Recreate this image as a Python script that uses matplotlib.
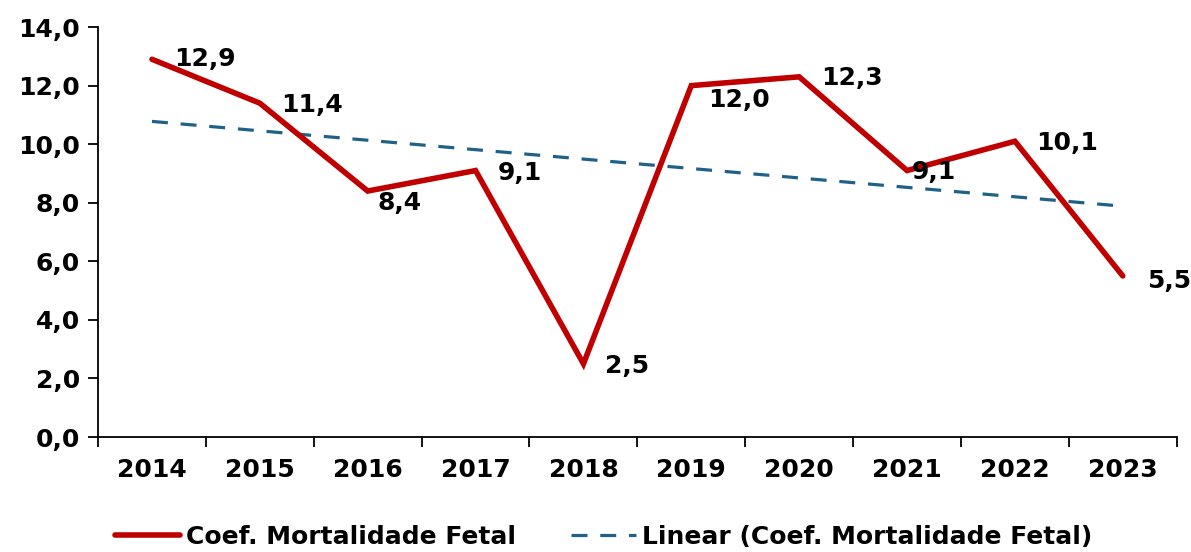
import numpy as np
from matplotlib import pyplot as plt

# data
years = ['2014', '2015', '2016', '2017', '2018', '2019', '2020', '2021', '2022', '2023']
coef = [12.9, 11.4, 8.4, 9.1, 2.5, 12.0, 12.3, 9.1, 10.1, 5.5]

# label offsets in pixels (dx, dy) for each data label
label_offsets = [(53, 0), (52, -2), (32, -12), (44, -2), (44, -2),
                 (48, -14), (53, -1), (27, -1), (52, -2), (46, -5)]

plt.rcParams['font.family'] = 'DejaVu Sans'
plt.rcParams['font.weight'] = 'bold'
FS = 18

fig = plt.figure(figsize=(11.91, 5.52), dpi=100)
ax = fig.add_axes([0.0823, 0.2083, 0.9057, 0.7427])

x = np.arange(len(years))
ax.plot(x, coef, color='#C00000', lw=4.0, solid_joinstyle='miter',
        solid_capstyle='round', label='Coef. Mortalidade Fetal', zorder=3)

# linear trendline, like excel does it
slope, icpt = np.polyfit(x, coef, 1)
ax.plot(x, slope * x + icpt, color='#1F6188', lw=2.3, ls=(0, (5.0, 4.0)),
        label='Linear (Coef. Mortalidade Fetal)', zorder=2)

for i, v in enumerate(coef):
    dx, dy = label_offsets[i]
    ax.annotate(f'{v:.1f}'.replace('.', ','), (x[i], v), xytext=(dx, dy),
                textcoords='offset pixels', ha='center', va='center',
                fontsize=FS, fontweight='bold', color='black', zorder=4)

ax.set_xlim(-0.5, len(years) - 0.5)
ax.set_ylim(0, 14)
ax.set_yticks(np.arange(0, 15, 2))
ax.set_yticklabels([f'{t:.1f}'.replace('.', ',') for t in np.arange(0, 15, 2)],
                   fontsize=FS, fontweight='bold')
ax.set_xticks(x)
ax.set_xticklabels(years, fontsize=FS, fontweight='bold')
ax.set_xticks(np.arange(-0.5, len(years), 1), minor=True)
ax.tick_params(axis='x', which='major', length=0, pad=15)
ax.tick_params(axis='x', which='minor', length=7, width=1.3, direction='out')
ax.tick_params(axis='y', length=7, width=1.3, direction='out', pad=6)

for s in ['top', 'right']:
    ax.spines[s].set_visible(False)
for s in ['left', 'bottom']:
    ax.spines[s].set_linewidth(1.3)

fig.legend(loc='center', bbox_to_anchor=(0.507, 0.027), ncol=2, frameon=False,
           prop={'size': FS, 'weight': 'bold'}, handlelength=2.6,
           handletextpad=0.25, columnspacing=2.2)

fig.savefig('out.png', dpi=100)
